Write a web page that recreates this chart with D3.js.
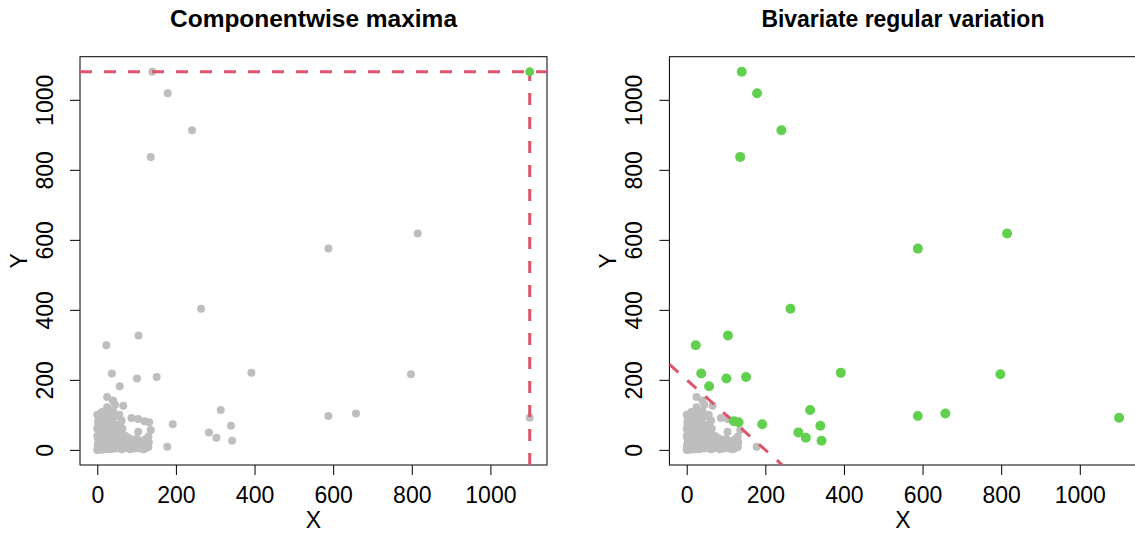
<!DOCTYPE html>
<html>
<head>
<meta charset="utf-8">
<script src="https://cdn.jsdelivr.net/npm/d3@7"></script>
<style>
  body { margin: 0; background: #fff; }
  svg { display: block; font-family: "Liberation Sans", Arial, sans-serif; }
</style>
</head>
<body>
<script>
// Data
var titles = ['Componentwise maxima', 'Bivariate regular variation'];
var xTicks = [0, 200, 400, 600, 800, 1000];
var yTicks = [0, 200, 400, 600, 800, 1000];
var threshold = 200;

// large observations
var outX = [140, 179, 241, 136, 588, 815, 264, 105, 23, 37, 101, 151, 57, 392, 798, 314, 588, 658, 1100, 192, 284, 303, 340, 343, 120, 132, 178];
var outY = [1080, 1019, 913, 837, 575, 618, 403, 327, 299, 218, 204, 208, 182, 220, 216, 114, 97, 104, 92, 73, 50, 35, 69, 26, 82, 79, 9];

// bulk near the origin, [x, y]
var bulk = [
  [1, 2], [3, 5], [5, 1], [2, 9], [7, 4], [9, 8], [4, 13], [11, 2], [13, 11], [6, 17], [15, 6], [17, 15], [3, 20], [10, 22],
  [19, 3], [21, 10], [8, 27], [24, 18], [14, 29], [26, 5], [28, 24], [2, 32], [18, 36], [31, 13], [33, 2], [22, 40], [35, 30],
  [6, 44], [38, 8], [40, 20], [12, 48], [30, 46], [42, 38], [45, 4], [46, 26], [26, 54], [48, 14], [16, 58], [36, 58], [50, 44],
  [53, 6], [55, 30], [58, 18], [60, 50], [62, 2], [64, 36], [67, 12], [70, 26], [72, 40], [75, 6], [78, 18], [80, 34], [86, 10],
  [89, 26], [95, 4], [98, 20], [101, 32], [104, 12], [104, 52], [110, 4], [113, 24], [119, 14], [122, 30], [125, 6], [130, 38],
  [131, 22], [136, 57], [123, 12], [91, 29], [79, 10],
  [4, 56], [10, 62], [20, 66], [30, 70], [2, 74], [14, 78], [24, 82], [40, 76], [8, 88], [34, 90], [18, 91], [48, 96], [0, 100],
  [28, 104], [12, 108], [40, 112], [25, 122], [45, 129], [66, 126], [25, 151], [40, 141], [50, 66], [58, 74], [62, 84],
  [87, 91], [104, 88], [56, 100], [36, 98],
  [0, 0], [1, 14], [6, 30], [12, 1], [16, 24], [20, 28], [24, 10], [28, 36], [32, 20], [36, 44], [40, 12], [44, 50], [48, 32],
  [52, 22], [56, 40], [8, 50], [14, 38], [0, 40], [0, 60], [5, 70], [22, 2], [34, 6], [10, 12], [18, 20], [26, 14], [4, 26],
  [12, 34], [30, 28], [38, 24], [44, 8], [60, 10], [66, 4], [68, 20], [76, 28], [84, 2], [92, 14], [102, 6], [110, 16],
  [118, 2], [130, 8], [20, 86], [32, 62], [44, 70], [54, 56], [2, 82], [16, 70], [28, 50], [64, 60]
];

var allX = outX.concat(bulk.map((d) => d[0]));
var allY = outY.concat(bulk.map((d) => d[1]));
var points = allX.map((d, i) => ({ x: d, y: allY[i] }));

// Colours as in R's default palette
var grey = '#BEBEBE';
var green = '#61D04F';
var red = '#DF536B';

var width = 1135;
var height = 533;
var plot = { left: 80, right: 547, top: 56.7, bottom: 465 };
var panelShift = 589.4;
var titleWidths = [287, 283];

var svg = d3.select('body').append('svg').attr('width', width).attr('height', height);

// R style 4% padding of the data range
var xMax = d3.max(allX);
var yMax = d3.max(allY);
var x = d3.scaleLinear().domain([-0.04 * xMax, 1.04 * xMax]).range([plot.left, plot.right]);
var y = d3.scaleLinear().domain([-0.04 * yMax, 1.04 * yMax]).range([plot.bottom, plot.top]);

svg.append('defs').append('clipPath').attr('id', 'plotclip')
  .append('rect')
  .attr('x', plot.left)
  .attr('y', plot.top)
  .attr('width', plot.right - plot.left)
  .attr('height', plot.bottom - plot.top);

function drawFrame(g, i) {
  // x axis
  var xa = g.append('g')
    .attr('transform', 'translate(0,' + plot.bottom + ')')
    .call(d3.axisBottom(x).tickValues(xTicks).tickFormat(d3.format('d')).tickSize(10).tickPadding(12));
  xa.select('.domain').remove();
  xa.selectAll('text').attr('font-size', '23px').attr('fill', '#000').attr('font-family', null);
  xa.selectAll('line').attr('stroke', '#000');

  // y axis, labels parallel to the axis
  var ya = g.append('g')
    .attr('transform', 'translate(' + plot.left + ',0)')
    .call(d3.axisLeft(y).tickValues(yTicks).tickFormat(d3.format('d')).tickSize(10));
  ya.select('.domain').remove();
  ya.selectAll('line').attr('stroke', '#000');
  ya.selectAll('text')
    .attr('font-size', '23px')
    .attr('fill', '#000')
    .attr('font-family', null)
    .attr('x', null)
    .attr('dy', null)
    .attr('text-anchor', 'middle')
    .attr('transform', 'translate(-27,0) rotate(-90)');

  // box
  g.append('rect')
    .attr('x', plot.left)
    .attr('y', plot.top)
    .attr('width', plot.right - plot.left)
    .attr('height', plot.bottom - plot.top)
    .attr('fill', 'none')
    .attr('stroke', '#000')
    .attr('stroke-width', 1);

  g.append('text')
    .attr('x', (plot.left + plot.right) / 2)
    .attr('y', 27)
    .attr('text-anchor', 'middle')
    .attr('font-size', '23px')
    .attr('font-weight', 'bold')
    .attr('textLength', titleWidths[i])
    .attr('lengthAdjust', 'spacingAndGlyphs')
    .text(titles[i]);

  g.append('text')
    .attr('x', (plot.left + plot.right) / 2)
    .attr('y', 528)
    .attr('text-anchor', 'middle')
    .attr('font-size', '23px')
    .text('X');

  g.append('text')
    .attr('transform', 'translate(' + (plot.left - 53) + ',' + ((plot.top + plot.bottom) / 2) + ') rotate(-90)')
    .attr('text-anchor', 'middle')
    .attr('font-size', '23px')
    .text('Y');
}

// Left panel: componentwise maxima
var left = svg.append('g').attr('class', 'panel-left');
drawFrame(left, 0);

left.append('g')
  .selectAll('circle')
  .data(points)
  .enter()
  .append('circle')
  .attr('cx', (d) => x(d.x))
  .attr('cy', (d) => y(d.y))
  .attr('r', 4)
  .attr('fill', grey);

var lc = left.append('g').attr('clip-path', 'url(#plotclip)');
lc.append('line')
  .attr('x1', plot.left).attr('x2', plot.right)
  .attr('y1', y(yMax)).attr('y2', y(yMax))
  .attr('stroke', red).attr('stroke-width', 3).attr('stroke-dasharray', '12,12');
lc.append('line')
  .attr('x1', x(xMax)).attr('x2', x(xMax))
  .attr('y1', plot.bottom).attr('y2', plot.top)
  .attr('stroke', red).attr('stroke-width', 3).attr('stroke-dasharray', '12,12');

left.append('circle')
  .attr('cx', x(xMax))
  .attr('cy', y(yMax))
  .attr('r', 4.5)
  .attr('fill', green);

// Right panel: points beyond x + y = threshold
var right = svg.append('g').attr('class', 'panel-right').attr('transform', 'translate(' + panelShift + ',0)');
drawFrame(right, 1);

right.append('g')
  .selectAll('circle')
  .data(points.filter((d) => d.x + d.y <= threshold))
  .enter()
  .append('circle')
  .attr('cx', (d) => x(d.x))
  .attr('cy', (d) => y(d.y))
  .attr('r', 4)
  .attr('fill', grey);

right.append('g')
  .attr('clip-path', 'url(#plotclip)')
  .append('line')
  .attr('x1', x(x.domain()[0]))
  .attr('y1', y(threshold - x.domain()[0]))
  .attr('x2', x(threshold - y.domain()[0]))
  .attr('y2', y(y.domain()[0]))
  .attr('stroke', red).attr('stroke-width', 3).attr('stroke-dasharray', '12,12');

right.append('g')
  .selectAll('circle')
  .data(points.filter((d) => d.x + d.y > threshold))
  .enter()
  .append('circle')
  .attr('cx', (d) => x(d.x))
  .attr('cy', (d) => y(d.y))
  .attr('r', 5)
  .attr('fill', green);
</script>
</body>
</html>
